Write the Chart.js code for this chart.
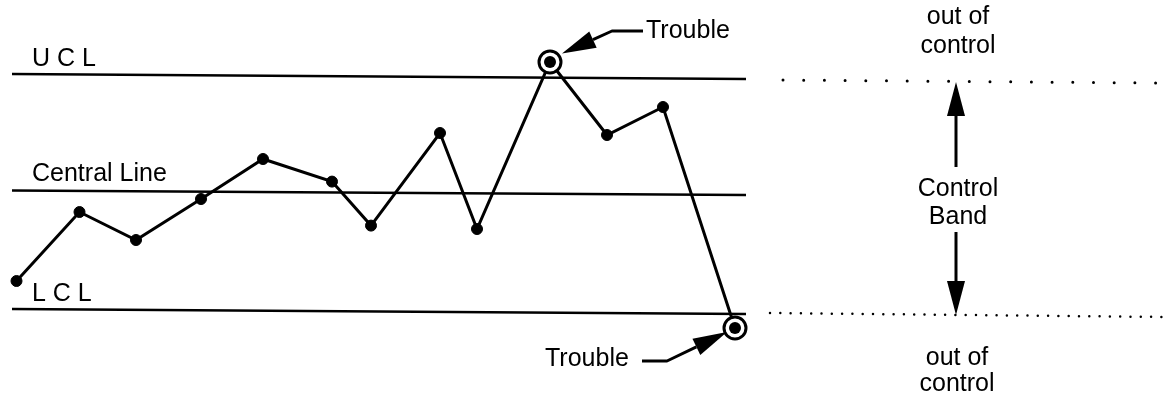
<!DOCTYPE html>
<html lang="en">
<head>
    <meta charset="UTF-8">
    <title>Control Chart</title>
    <script src="https://cdn.jsdelivr.net/npm/chart.js"></script>
    <style>
        html, body {
            margin: 0;
            padding: 0;
            background: #ffffff;
        }
        #wrap {
            width: 1173px;
            height: 400px;
        }
    </style>
</head>
<body>
    <div id="wrap">
        <canvas id="chart" width="1173" height="400"></canvas>
    </div>

    <script>
        // process samples (x = time, y = measured value)
        const sampleX = [1.65, 7.95, 13.6, 20.1, 26.3, 33.2, 37.1, 44.0, 47.7, 55.0, 60.7, 66.3, 73.5];
        const sampleY = [29.75, 47, 40, 50.25, 60.25, 54.6, 43.6, 66.75, 42.75, 84.5, 66.25, 73.25, 18];

        // samples outside the control band
        const troubleIdx = [9, 12];

        // control limits (start / end of each drawn line)
        const limitX = [1.2, 74.6];
        const uclY = [81.5, 80.25];
        const centralY = [52.4, 51.25];
        const lclY = [22.75, 21.5];

        // dotted continuation of the limits on the right
        const upperDotX = [78.3, 115.8];
        const upperDotY = [80, 79.25];
        const lowerDotX = [77.0, 116.5];
        const lowerDotY = [21.75, 20.75];

        // texts: [text, x, y, align]
        const notes = [
            ['U C L', 3.2, 85.25, 'left'],
            ['Central Line', 3.2, 56.5, 'left'],
            ['L C L', 3.2, 26.5, 'left'],
            ['Trouble', 64.6, 92.25, 'left'],
            ['Trouble', 54.5, 10.25, 'left'],
            ['out of', 95.8, 95.75, 'center'],
            ['control', 95.8, 88.5, 'center'],
            ['Control', 95.8, 52.75, 'center'],
            ['Band', 95.8, 45.75, 'center'],
            ['out of', 95.7, 10.5, 'center'],
            ['control', 95.7, 4, 'center']
        ];

        // arrows: list of [x, y] points, head at the last one
        const arrows = [
            [[95.6, 58.25], [95.6, 79.5]],
            [[95.6, 42], [95.6, 21.25]],
            [[64.3, 92.25], [61.2, 92.25], [56.2, 86.6]],
            [[64.2, 9.75], [66.7, 9.75], [72.7, 17]]
        ];

        function pts(xs, ys) {
            return xs.map((x, i) => ({ x: x, y: ys[i] }));
        }

        function limitLine(ys) {
            return {
                data: pts(limitX, ys),
                borderColor: '#000',
                borderWidth: 2.5,
                pointRadius: 0,
                order: 5
            };
        }

        function dotLine(xs, ys, gap, width) {
            return {
                data: pts(xs, ys),
                borderColor: '#000',
                borderWidth: width,
                borderDash: [0, gap],
                borderCapStyle: 'round',
                pointRadius: 0,
                order: 5
            };
        }

        const troubleData = troubleIdx.map(i => ({ x: sampleX[i], y: sampleY[i] }));

        const notesPlugin = {
            id: 'notes',
            afterDatasetsDraw(chart) {
                const ctx = chart.ctx;
                const sx = chart.scales.x;
                const sy = chart.scales.y;
                ctx.save();
                ctx.fillStyle = '#000';
                ctx.strokeStyle = '#000';
                ctx.font = '25px "Liberation Sans", Arial, sans-serif';
                ctx.textBaseline = 'middle';
                notes.forEach(n => {
                    ctx.textAlign = n[3];
                    ctx.fillText(n[0], sx.getPixelForValue(n[1]), sy.getPixelForValue(n[2]));
                });

                arrows.forEach(a => {
                    const p = a.map(q => [sx.getPixelForValue(q[0]), sy.getPixelForValue(q[1])]);
                    const tip = p[p.length - 1];
                    const prev = p[p.length - 2];
                    const ang = Math.atan2(tip[1] - prev[1], tip[0] - prev[0]);
                    const len = 34, half = 9;
                    const bx = tip[0] - Math.cos(ang) * len;
                    const by = tip[1] - Math.sin(ang) * len;

                    ctx.lineWidth = 3;
                    ctx.lineJoin = 'round';
                    ctx.beginPath();
                    ctx.moveTo(p[0][0], p[0][1]);
                    for (let i = 1; i < p.length - 1; i++) ctx.lineTo(p[i][0], p[i][1]);
                    ctx.lineTo(bx, by);
                    ctx.stroke();

                    ctx.beginPath();
                    ctx.moveTo(tip[0], tip[1]);
                    ctx.lineTo(bx - Math.sin(ang) * half, by + Math.cos(ang) * half);
                    ctx.lineTo(bx + Math.sin(ang) * half, by - Math.cos(ang) * half);
                    ctx.closePath();
                    ctx.fill();
                });
                ctx.restore();
            }
        };

        new Chart(document.getElementById('chart'), {
            type: 'line',
            data: {
                datasets: [
                    {
                        // inner dot of the trouble points
                        data: troubleData,
                        showLine: false,
                        pointRadius: 6,
                        pointBackgroundColor: '#000',
                        pointBorderWidth: 0,
                        order: 0
                    },
                    {
                        // ring round the trouble points
                        data: troubleData,
                        showLine: false,
                        pointRadius: 11,
                        pointBackgroundColor: '#fff',
                        pointBorderColor: '#000',
                        pointBorderWidth: 3,
                        order: 1
                    },
                    {
                        data: pts(sampleX, sampleY),
                        borderColor: '#000',
                        borderWidth: 3,
                        pointRadius: 5.5,
                        pointBackgroundColor: '#000',
                        pointBorderColor: '#000',
                        pointBorderWidth: 1,
                        tension: 0,
                        order: 2
                    },
                    limitLine(uclY),
                    limitLine(centralY),
                    limitLine(lclY),
                    dotLine(upperDotX, upperDotY, 20.7, 3),
                    dotLine(lowerDotX, lowerDotY, 10.3, 2.5)
                ]
            },
            options: {
                responsive: false,
                animation: false,
                clip: false,
                layout: { padding: 0, autoPadding: false },
                plugins: {
                    legend: { display: false },
                    tooltip: { enabled: false }
                },
                scales: {
                    x: { type: 'linear', min: 0, max: 117.3, display: false },
                    y: { type: 'linear', min: 0, max: 100, display: false }
                }
            },
            plugins: [notesPlugin]
        });
    </script>
</body>
</html>
